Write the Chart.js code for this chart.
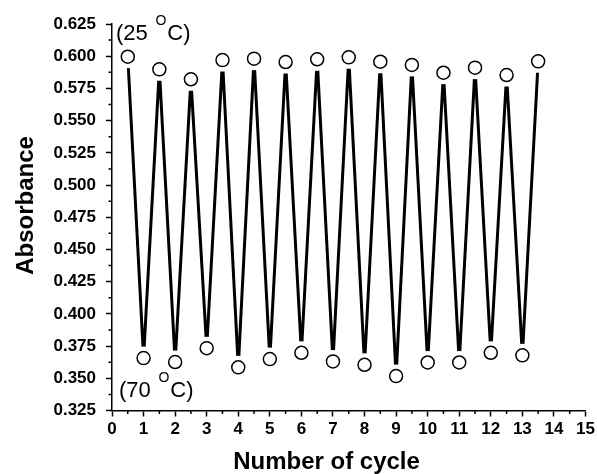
<!DOCTYPE html>
<html>
<head>
<meta charset="utf-8">
<script src="https://cdn.jsdelivr.net/npm/chart.js@4.4.1/dist/chart.umd.min.js"></script>
<style>
  body { margin: 0; background: #fff; }
</style>
</head>
<body>
<canvas id="cycleChart" width="597" height="474"></canvas>
<script>
// absorbance after cooling (25 °C) and heating (70 °C) steps
const coolPositions = [0.5, 1.5, 2.5, 3.5, 4.5, 5.5, 6.5, 7.5, 8.5, 9.5, 10.5, 11.5, 12.5, 13.5];
const coolAbsorbance = [0.5996, 0.5898, 0.5821, 0.5970, 0.5981, 0.5955, 0.5976, 0.5991, 0.5957, 0.5932, 0.5872, 0.5911, 0.5854, 0.5960];
const heatPositions = [1, 2, 3, 4, 5, 6, 7, 8, 9, 10, 11, 12, 13];
const heatAbsorbance = [0.3657, 0.3626, 0.3734, 0.3585, 0.3649, 0.3698, 0.3631, 0.3605, 0.3517, 0.3623, 0.3623, 0.3698, 0.3678];

const xRange = [0, 15];
const yRange = [0.325, 0.625];
const yStep = 0.025;

const FONT = '"Liberation Sans", Arial, sans-serif';
Chart.defaults.font.family = FONT;

// interleave the two temperatures into one up/down trace
function zigzag() {
  const pts = [];
  coolPositions.forEach((pos, i) => {
    pts.push({ x: pos, y: coolAbsorbance[i] });
    if (i < heatPositions.length) pts.push({ x: heatPositions[i], y: heatAbsorbance[i] });
  });
  return pts;
}

// half-step ticks and bold tick labels, placed from the scales' own ticks
const axisDecor = {
  id: 'axisDecor',
  afterDraw(chart) {
    const { ctx, scales: { x, y } } = chart;
    ctx.save();
    ctx.strokeStyle = '#000';
    ctx.lineWidth = 1.5;
    ctx.beginPath();
    for (let v = xRange[0] + 0.5; v < xRange[1]; v += 1) {
      const px = x.getPixelForValue(v);
      ctx.moveTo(px, x.top);
      ctx.lineTo(px, x.top + 3.5);
    }
    for (let v = yRange[0] + yStep / 2; v < yRange[1]; v += yStep) {
      const py = y.getPixelForValue(v);
      ctx.moveTo(y.right, py);
      ctx.lineTo(y.right - 3.5, py);
    }
    ctx.stroke();

    ctx.fillStyle = '#000';
    ctx.font = 'bold 17px ' + FONT;
    ctx.textAlign = 'center';
    ctx.textBaseline = 'top';
    x.ticks.forEach(t => ctx.fillText(String(t.value), x.getPixelForValue(t.value), x.top + 10));
    ctx.textAlign = 'right';
    ctx.textBaseline = 'middle';
    y.ticks.forEach(t => ctx.fillText(t.value.toFixed(3), y.right - 16, y.getPixelForValue(t.value)));
    ctx.restore();
  }
};

function tempLabel(ctx, x, baseline, temp) {
  ctx.font = '22px ' + FONT;
  const head = '(' + temp + ' ';
  ctx.fillText(head, x, baseline);
  let cx = x + ctx.measureText(head).width + 1.5;
  ctx.font = '14px ' + FONT;
  ctx.fillText('O', cx, baseline - 14.5);
  cx += ctx.measureText('O').width + 1;
  ctx.font = '22px ' + FONT;
  ctx.fillText('C)', cx, baseline);
}

// axis titles and temperature notes
const annotations = {
  id: 'annotations',
  afterDraw(chart) {
    const { ctx, chartArea } = chart;
    ctx.save();
    ctx.fillStyle = '#000';
    ctx.textAlign = 'left';
    ctx.textBaseline = 'alphabetic';
    tempLabel(ctx, chartArea.left + 4, 39.5, '25');
    tempLabel(ctx, chartArea.left + 7, 396.7, '70');

    ctx.font = 'bold 24px ' + FONT;
    ctx.textAlign = 'center';
    ctx.fillText('Number of cycle', 326.5, 469.3);

    ctx.translate(24, 205.5);
    ctx.rotate(-Math.PI / 2);
    ctx.fillText('Absorbance', 0, 8.6);
    ctx.restore();
  }
};

const axisLine = { color: '#000', width: 1.5 };
const outerTicks = { drawOnChartArea: false, drawTicks: true, tickLength: 6, tickColor: '#000', tickWidth: 1.5 };

new Chart(document.getElementById('cycleChart'), {
  type: 'scatter',
  data: {
    datasets: [
      {
        data: zigzag(),
        showLine: true,
        borderColor: '#000',
        borderWidth: 3,
        pointRadius: 0,
        order: 3
      },
      {
        // white gap around each marker, the line stops short of the circles
        data: zigzag(),
        showLine: false,
        pointRadius: 11.5,
        pointBackgroundColor: '#fff',
        pointBorderWidth: 0,
        order: 2
      },
      {
        data: zigzag(),
        showLine: false,
        pointRadius: 6.5,
        pointBackgroundColor: '#fff',
        pointBorderColor: '#000',
        pointBorderWidth: 1.5,
        order: 1
      }
    ]
  },
  options: {
    responsive: false,
    animation: false,
    layout: { padding: { top: 24, right: 10, left: 0, bottom: 0 } },
    plugins: {
      legend: { display: false },
      tooltip: { enabled: false }
    },
    scales: {
      x: {
        type: 'linear',
        min: xRange[0],
        max: xRange[1],
        afterFit(scale) { scale.height = 63.5; },
        border: axisLine,
        grid: outerTicks,
        ticks: { stepSize: 1, autoSkip: false, display: false }
      },
      y: {
        min: yRange[0],
        max: yRange[1],
        afterFit(scale) { scale.width = 112; },
        border: axisLine,
        grid: outerTicks,
        ticks: { stepSize: yStep, autoSkip: false, display: false }
      }
    }
  },
  plugins: [axisDecor, annotations]
});
</script>
</body>
</html>
